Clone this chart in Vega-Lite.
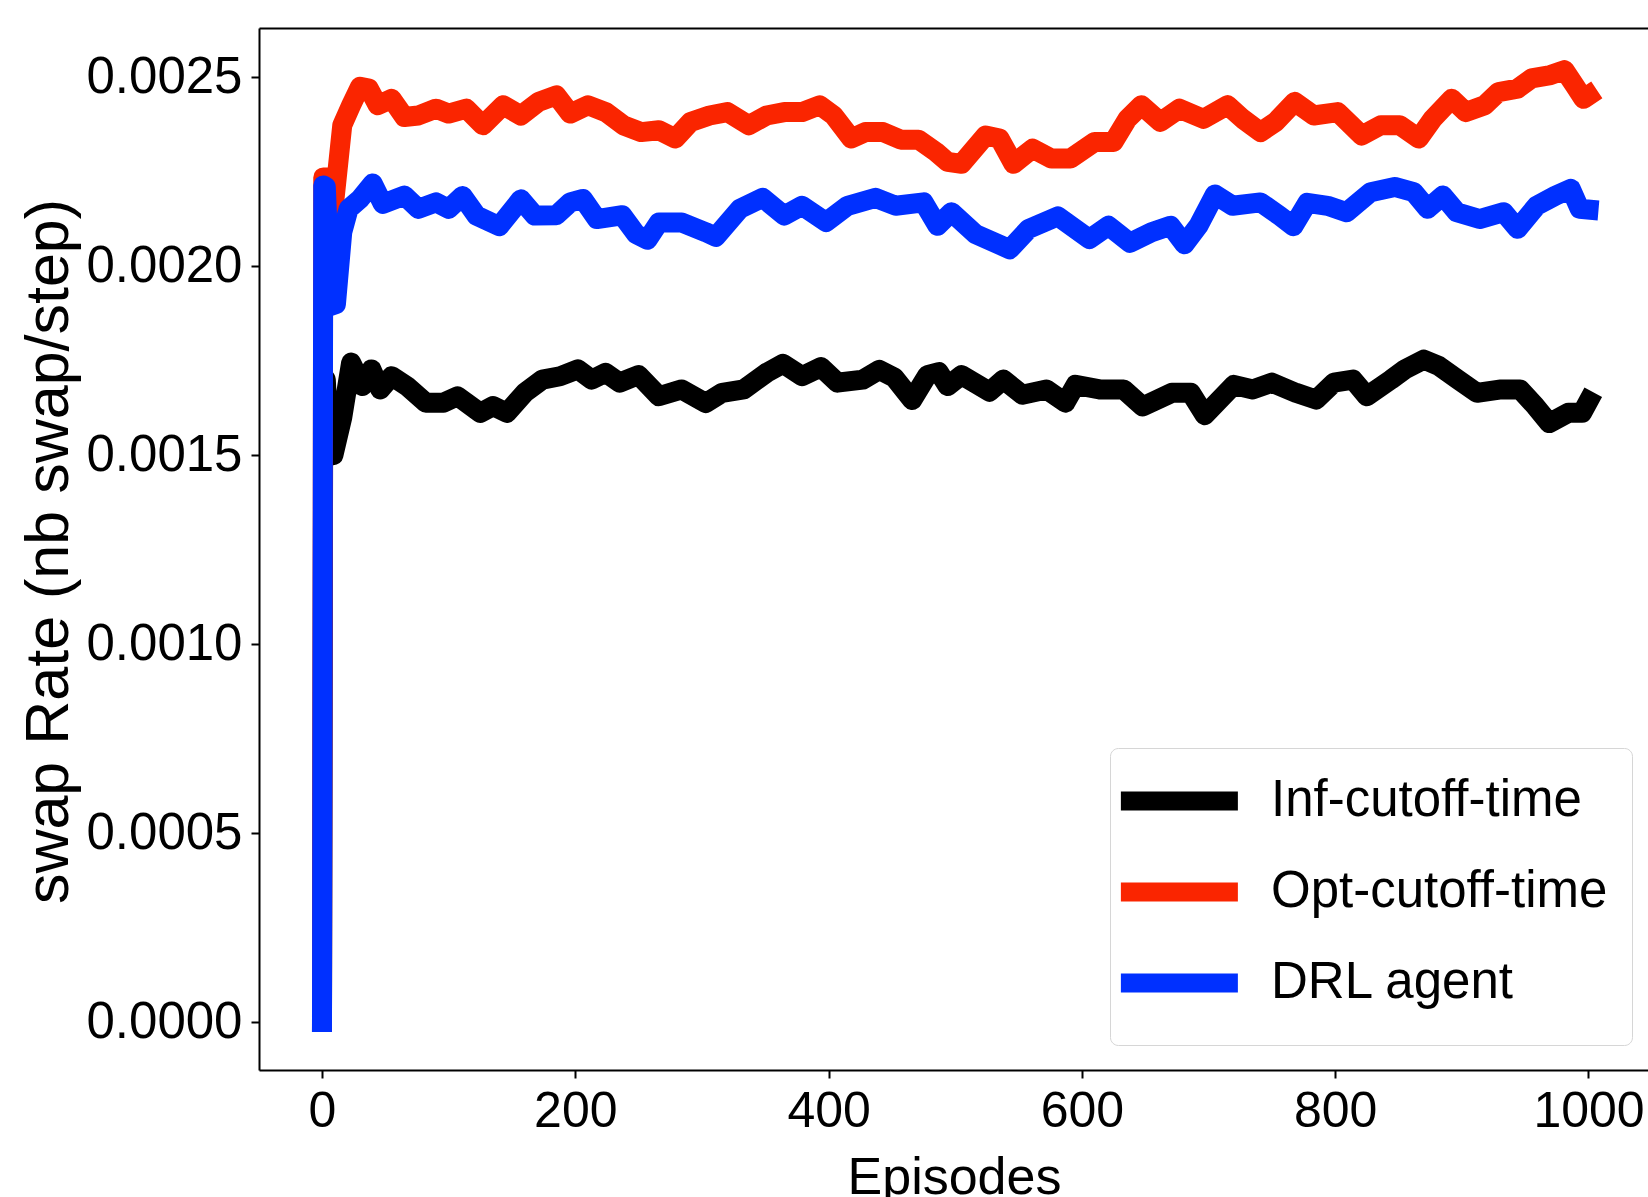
{
  "$schema": "https://vega.github.io/schema/vega-lite/v6.json",
  "autosize": {"type": "none"},
  "padding": {"left": 259, "top": 28, "right": 0, "bottom": 127},
  "width": 1389,
  "height": 1042,
  "background": "white",
  "config": {"view": {"stroke": null}},
  "datasets": {
    "rows": [
      {"series": "Inf-cutoff-time", "episode": 0, "rate": 0},
      {"series": "Inf-cutoff-time", "episode": 1, "rate": 0.00171},
      {"series": "Inf-cutoff-time", "episode": 3, "rate": 0.0017},
      {"series": "Inf-cutoff-time", "episode": 6, "rate": 0.0015},
      {"series": "Inf-cutoff-time", "episode": 9, "rate": 0.0015},
      {"series": "Inf-cutoff-time", "episode": 16, "rate": 0.0016},
      {"series": "Inf-cutoff-time", "episode": 23, "rate": 0.001745},
      {"series": "Inf-cutoff-time", "episode": 32, "rate": 0.001683},
      {"series": "Inf-cutoff-time", "episode": 39, "rate": 0.001727},
      {"series": "Inf-cutoff-time", "episode": 46, "rate": 0.001674},
      {"series": "Inf-cutoff-time", "episode": 55, "rate": 0.001709},
      {"series": "Inf-cutoff-time", "episode": 67, "rate": 0.001683},
      {"series": "Inf-cutoff-time", "episode": 82, "rate": 0.001639},
      {"series": "Inf-cutoff-time", "episode": 96, "rate": 0.001639},
      {"series": "Inf-cutoff-time", "episode": 107, "rate": 0.001656},
      {"series": "Inf-cutoff-time", "episode": 125, "rate": 0.001612},
      {"series": "Inf-cutoff-time", "episode": 135, "rate": 0.00163},
      {"series": "Inf-cutoff-time", "episode": 146, "rate": 0.001612},
      {"series": "Inf-cutoff-time", "episode": 160, "rate": 0.001665},
      {"series": "Inf-cutoff-time", "episode": 174, "rate": 0.0017},
      {"series": "Inf-cutoff-time", "episode": 188, "rate": 0.001709},
      {"series": "Inf-cutoff-time", "episode": 202, "rate": 0.001727},
      {"series": "Inf-cutoff-time", "episode": 213, "rate": 0.0017},
      {"series": "Inf-cutoff-time", "episode": 224, "rate": 0.001718},
      {"series": "Inf-cutoff-time", "episode": 235, "rate": 0.001692},
      {"series": "Inf-cutoff-time", "episode": 250, "rate": 0.001712},
      {"series": "Inf-cutoff-time", "episode": 266, "rate": 0.001656},
      {"series": "Inf-cutoff-time", "episode": 284, "rate": 0.001674},
      {"series": "Inf-cutoff-time", "episode": 303, "rate": 0.001638},
      {"series": "Inf-cutoff-time", "episode": 316, "rate": 0.001665},
      {"series": "Inf-cutoff-time", "episode": 333, "rate": 0.001674},
      {"series": "Inf-cutoff-time", "episode": 351, "rate": 0.001718},
      {"series": "Inf-cutoff-time", "episode": 364, "rate": 0.001742},
      {"series": "Inf-cutoff-time", "episode": 379, "rate": 0.001709},
      {"series": "Inf-cutoff-time", "episode": 394, "rate": 0.001733},
      {"series": "Inf-cutoff-time", "episode": 407, "rate": 0.001692},
      {"series": "Inf-cutoff-time", "episode": 427, "rate": 0.0017},
      {"series": "Inf-cutoff-time", "episode": 440, "rate": 0.001726},
      {"series": "Inf-cutoff-time", "episode": 452, "rate": 0.001705},
      {"series": "Inf-cutoff-time", "episode": 466, "rate": 0.001646},
      {"series": "Inf-cutoff-time", "episode": 478, "rate": 0.001712},
      {"series": "Inf-cutoff-time", "episode": 487, "rate": 0.00172},
      {"series": "Inf-cutoff-time", "episode": 494, "rate": 0.001683},
      {"series": "Inf-cutoff-time", "episode": 505, "rate": 0.001712},
      {"series": "Inf-cutoff-time", "episode": 516, "rate": 0.00169},
      {"series": "Inf-cutoff-time", "episode": 527, "rate": 0.001668},
      {"series": "Inf-cutoff-time", "episode": 538, "rate": 0.0017},
      {"series": "Inf-cutoff-time", "episode": 553, "rate": 0.00166},
      {"series": "Inf-cutoff-time", "episode": 572, "rate": 0.001674},
      {"series": "Inf-cutoff-time", "episode": 587, "rate": 0.001639},
      {"series": "Inf-cutoff-time", "episode": 595, "rate": 0.001686},
      {"series": "Inf-cutoff-time", "episode": 614, "rate": 0.001674},
      {"series": "Inf-cutoff-time", "episode": 633, "rate": 0.001674},
      {"series": "Inf-cutoff-time", "episode": 648, "rate": 0.001629},
      {"series": "Inf-cutoff-time", "episode": 671, "rate": 0.001665},
      {"series": "Inf-cutoff-time", "episode": 686, "rate": 0.001665},
      {"series": "Inf-cutoff-time", "episode": 697, "rate": 0.001606},
      {"series": "Inf-cutoff-time", "episode": 720, "rate": 0.001686},
      {"series": "Inf-cutoff-time", "episode": 735, "rate": 0.001674},
      {"series": "Inf-cutoff-time", "episode": 750, "rate": 0.001692},
      {"series": "Inf-cutoff-time", "episode": 769, "rate": 0.001665},
      {"series": "Inf-cutoff-time", "episode": 785, "rate": 0.001647},
      {"series": "Inf-cutoff-time", "episode": 799, "rate": 0.001692},
      {"series": "Inf-cutoff-time", "episode": 814, "rate": 0.0017},
      {"series": "Inf-cutoff-time", "episode": 825, "rate": 0.001656},
      {"series": "Inf-cutoff-time", "episode": 844, "rate": 0.0017},
      {"series": "Inf-cutoff-time", "episode": 855, "rate": 0.001727},
      {"series": "Inf-cutoff-time", "episode": 870, "rate": 0.001753},
      {"series": "Inf-cutoff-time", "episode": 882, "rate": 0.001736},
      {"series": "Inf-cutoff-time", "episode": 897, "rate": 0.0017},
      {"series": "Inf-cutoff-time", "episode": 912, "rate": 0.001665},
      {"series": "Inf-cutoff-time", "episode": 931, "rate": 0.001674},
      {"series": "Inf-cutoff-time", "episode": 946, "rate": 0.001674},
      {"series": "Inf-cutoff-time", "episode": 958, "rate": 0.00163},
      {"series": "Inf-cutoff-time", "episode": 969, "rate": 0.001585},
      {"series": "Inf-cutoff-time", "episode": 984, "rate": 0.001612},
      {"series": "Inf-cutoff-time", "episode": 995, "rate": 0.001612},
      {"series": "Inf-cutoff-time", "episode": 1000, "rate": 0.001643},

      {"series": "Opt-cutoff-time", "episode": 0, "rate": 0},
      {"series": "Opt-cutoff-time", "episode": 1, "rate": 0.002235},
      {"series": "Opt-cutoff-time", "episode": 5, "rate": 0.002235},
      {"series": "Opt-cutoff-time", "episode": 9, "rate": 0.00215},
      {"series": "Opt-cutoff-time", "episode": 16, "rate": 0.002373},
      {"series": "Opt-cutoff-time", "episode": 23, "rate": 0.002426},
      {"series": "Opt-cutoff-time", "episode": 30, "rate": 0.002475},
      {"series": "Opt-cutoff-time", "episode": 37, "rate": 0.00247},
      {"series": "Opt-cutoff-time", "episode": 44, "rate": 0.002426},
      {"series": "Opt-cutoff-time", "episode": 55, "rate": 0.002443},
      {"series": "Opt-cutoff-time", "episode": 65, "rate": 0.002395},
      {"series": "Opt-cutoff-time", "episode": 76, "rate": 0.002399},
      {"series": "Opt-cutoff-time", "episode": 90, "rate": 0.002417},
      {"series": "Opt-cutoff-time", "episode": 100, "rate": 0.002404},
      {"series": "Opt-cutoff-time", "episode": 114, "rate": 0.002417},
      {"series": "Opt-cutoff-time", "episode": 127, "rate": 0.002373},
      {"series": "Opt-cutoff-time", "episode": 143, "rate": 0.002426},
      {"series": "Opt-cutoff-time", "episode": 157, "rate": 0.002399},
      {"series": "Opt-cutoff-time", "episode": 171, "rate": 0.002435},
      {"series": "Opt-cutoff-time", "episode": 185, "rate": 0.002452},
      {"series": "Opt-cutoff-time", "episode": 196, "rate": 0.002404},
      {"series": "Opt-cutoff-time", "episode": 210, "rate": 0.002426},
      {"series": "Opt-cutoff-time", "episode": 224, "rate": 0.002408},
      {"series": "Opt-cutoff-time", "episode": 238, "rate": 0.002373},
      {"series": "Opt-cutoff-time", "episode": 252, "rate": 0.002355},
      {"series": "Opt-cutoff-time", "episode": 266, "rate": 0.00236},
      {"series": "Opt-cutoff-time", "episode": 279, "rate": 0.002338},
      {"series": "Opt-cutoff-time", "episode": 291, "rate": 0.002382},
      {"series": "Opt-cutoff-time", "episode": 306, "rate": 0.002399},
      {"series": "Opt-cutoff-time", "episode": 320, "rate": 0.002408},
      {"series": "Opt-cutoff-time", "episode": 337, "rate": 0.002373},
      {"series": "Opt-cutoff-time", "episode": 351, "rate": 0.002399},
      {"series": "Opt-cutoff-time", "episode": 365, "rate": 0.002408},
      {"series": "Opt-cutoff-time", "episode": 379, "rate": 0.002408},
      {"series": "Opt-cutoff-time", "episode": 393, "rate": 0.002426},
      {"series": "Opt-cutoff-time", "episode": 404, "rate": 0.002399},
      {"series": "Opt-cutoff-time", "episode": 418, "rate": 0.002338},
      {"series": "Opt-cutoff-time", "episode": 429, "rate": 0.002355},
      {"series": "Opt-cutoff-time", "episode": 443, "rate": 0.002355},
      {"series": "Opt-cutoff-time", "episode": 457, "rate": 0.002335},
      {"series": "Opt-cutoff-time", "episode": 471, "rate": 0.002335},
      {"series": "Opt-cutoff-time", "episode": 485, "rate": 0.002302},
      {"series": "Opt-cutoff-time", "episode": 494, "rate": 0.002276},
      {"series": "Opt-cutoff-time", "episode": 505, "rate": 0.002271},
      {"series": "Opt-cutoff-time", "episode": 524, "rate": 0.002346},
      {"series": "Opt-cutoff-time", "episode": 535, "rate": 0.002338},
      {"series": "Opt-cutoff-time", "episode": 546, "rate": 0.002271},
      {"series": "Opt-cutoff-time", "episode": 561, "rate": 0.002311},
      {"series": "Opt-cutoff-time", "episode": 576, "rate": 0.002285},
      {"series": "Opt-cutoff-time", "episode": 591, "rate": 0.002285},
      {"series": "Opt-cutoff-time", "episode": 610, "rate": 0.002329},
      {"series": "Opt-cutoff-time", "episode": 625, "rate": 0.002329},
      {"series": "Opt-cutoff-time", "episode": 636, "rate": 0.00239},
      {"series": "Opt-cutoff-time", "episode": 647, "rate": 0.002426},
      {"series": "Opt-cutoff-time", "episode": 662, "rate": 0.002382},
      {"series": "Opt-cutoff-time", "episode": 677, "rate": 0.002417},
      {"series": "Opt-cutoff-time", "episode": 696, "rate": 0.00239},
      {"series": "Opt-cutoff-time", "episode": 715, "rate": 0.002426},
      {"series": "Opt-cutoff-time", "episode": 727, "rate": 0.00239},
      {"series": "Opt-cutoff-time", "episode": 741, "rate": 0.002355},
      {"series": "Opt-cutoff-time", "episode": 753, "rate": 0.002382},
      {"series": "Opt-cutoff-time", "episode": 768, "rate": 0.002435},
      {"series": "Opt-cutoff-time", "episode": 783, "rate": 0.002399},
      {"series": "Opt-cutoff-time", "episode": 802, "rate": 0.002408},
      {"series": "Opt-cutoff-time", "episode": 821, "rate": 0.002346},
      {"series": "Opt-cutoff-time", "episode": 836, "rate": 0.002373},
      {"series": "Opt-cutoff-time", "episode": 851, "rate": 0.002373},
      {"series": "Opt-cutoff-time", "episode": 866, "rate": 0.002338},
      {"series": "Opt-cutoff-time", "episode": 877, "rate": 0.00239},
      {"series": "Opt-cutoff-time", "episode": 892, "rate": 0.002443},
      {"series": "Opt-cutoff-time", "episode": 903, "rate": 0.002408},
      {"series": "Opt-cutoff-time", "episode": 918, "rate": 0.002426},
      {"series": "Opt-cutoff-time", "episode": 929, "rate": 0.002461},
      {"series": "Opt-cutoff-time", "episode": 944, "rate": 0.00247},
      {"series": "Opt-cutoff-time", "episode": 955, "rate": 0.002497},
      {"series": "Opt-cutoff-time", "episode": 970, "rate": 0.002506},
      {"series": "Opt-cutoff-time", "episode": 981, "rate": 0.002519},
      {"series": "Opt-cutoff-time", "episode": 989, "rate": 0.002479},
      {"series": "Opt-cutoff-time", "episode": 996, "rate": 0.002443},
      {"series": "Opt-cutoff-time", "episode": 1000, "rate": 0.002452},

      {"series": "DRL agent", "episode": 0, "rate": 0},
      {"series": "DRL agent", "episode": 1, "rate": 0.002214},
      {"series": "DRL agent", "episode": 3, "rate": 0.00221},
      {"series": "DRL agent", "episode": 7, "rate": 0.001895},
      {"series": "DRL agent", "episode": 11, "rate": 0.0019},
      {"series": "DRL agent", "episode": 16, "rate": 0.00209},
      {"series": "DRL agent", "episode": 21, "rate": 0.002152},
      {"series": "DRL agent", "episode": 30, "rate": 0.002178},
      {"series": "DRL agent", "episode": 40, "rate": 0.002219},
      {"series": "DRL agent", "episode": 48, "rate": 0.002165},
      {"series": "DRL agent", "episode": 65, "rate": 0.002187},
      {"series": "DRL agent", "episode": 76, "rate": 0.002152},
      {"series": "DRL agent", "episode": 90, "rate": 0.002169},
      {"series": "DRL agent", "episode": 100, "rate": 0.002152},
      {"series": "DRL agent", "episode": 111, "rate": 0.002186},
      {"series": "DRL agent", "episode": 122, "rate": 0.002134},
      {"series": "DRL agent", "episode": 140, "rate": 0.002106},
      {"series": "DRL agent", "episode": 157, "rate": 0.002177},
      {"series": "DRL agent", "episode": 168, "rate": 0.002134},
      {"series": "DRL agent", "episode": 185, "rate": 0.002135},
      {"series": "DRL agent", "episode": 196, "rate": 0.002169},
      {"series": "DRL agent", "episode": 206, "rate": 0.002178},
      {"series": "DRL agent", "episode": 217, "rate": 0.002125},
      {"series": "DRL agent", "episode": 237, "rate": 0.002135},
      {"series": "DRL agent", "episode": 248, "rate": 0.002085},
      {"series": "DRL agent", "episode": 257, "rate": 0.00207},
      {"series": "DRL agent", "episode": 266, "rate": 0.002116},
      {"series": "DRL agent", "episode": 284, "rate": 0.002116},
      {"series": "DRL agent", "episode": 303, "rate": 0.00209},
      {"series": "DRL agent", "episode": 311, "rate": 0.002078},
      {"series": "DRL agent", "episode": 330, "rate": 0.002152},
      {"series": "DRL agent", "episode": 348, "rate": 0.002181},
      {"series": "DRL agent", "episode": 365, "rate": 0.002134},
      {"series": "DRL agent", "episode": 379, "rate": 0.00216},
      {"series": "DRL agent", "episode": 398, "rate": 0.002117},
      {"series": "DRL agent", "episode": 415, "rate": 0.00216},
      {"series": "DRL agent", "episode": 437, "rate": 0.002181},
      {"series": "DRL agent", "episode": 453, "rate": 0.00216},
      {"series": "DRL agent", "episode": 475, "rate": 0.002169},
      {"series": "DRL agent", "episode": 486, "rate": 0.002107},
      {"series": "DRL agent", "episode": 497, "rate": 0.002143},
      {"series": "DRL agent", "episode": 516, "rate": 0.002085},
      {"series": "DRL agent", "episode": 543, "rate": 0.002045},
      {"series": "DRL agent", "episode": 558, "rate": 0.002099},
      {"series": "DRL agent", "episode": 581, "rate": 0.002132},
      {"series": "DRL agent", "episode": 606, "rate": 0.002072},
      {"series": "DRL agent", "episode": 621, "rate": 0.002107},
      {"series": "DRL agent", "episode": 638, "rate": 0.002062},
      {"series": "DRL agent", "episode": 655, "rate": 0.00209},
      {"series": "DRL agent", "episode": 670, "rate": 0.002107},
      {"series": "DRL agent", "episode": 681, "rate": 0.002058},
      {"series": "DRL agent", "episode": 692, "rate": 0.002107},
      {"series": "DRL agent", "episode": 705, "rate": 0.00219},
      {"series": "DRL agent", "episode": 719, "rate": 0.00216},
      {"series": "DRL agent", "episode": 741, "rate": 0.002169},
      {"series": "DRL agent", "episode": 756, "rate": 0.002134},
      {"series": "DRL agent", "episode": 767, "rate": 0.002106},
      {"series": "DRL agent", "episode": 778, "rate": 0.002168},
      {"series": "DRL agent", "episode": 794, "rate": 0.00216},
      {"series": "DRL agent", "episode": 809, "rate": 0.002143},
      {"series": "DRL agent", "episode": 828, "rate": 0.002196},
      {"series": "DRL agent", "episode": 847, "rate": 0.00221},
      {"series": "DRL agent", "episode": 862, "rate": 0.002196},
      {"series": "DRL agent", "episode": 873, "rate": 0.002152},
      {"series": "DRL agent", "episode": 885, "rate": 0.002187},
      {"series": "DRL agent", "episode": 896, "rate": 0.002143},
      {"series": "DRL agent", "episode": 914, "rate": 0.002125},
      {"series": "DRL agent", "episode": 933, "rate": 0.002143},
      {"series": "DRL agent", "episode": 944, "rate": 0.002099},
      {"series": "DRL agent", "episode": 959, "rate": 0.00216},
      {"series": "DRL agent", "episode": 974, "rate": 0.002187},
      {"series": "DRL agent", "episode": 986, "rate": 0.002205},
      {"series": "DRL agent", "episode": 993, "rate": 0.002152},
      {"series": "DRL agent", "episode": 1000, "rate": 0.00215}
    ]
  },
  "data": {"name": "rows"},
  "layer": [
    {
      "mark": {"type": "line", "strokeWidth": 20, "strokeCap": "square", "strokeJoin": "round"},
      "encoding": {
        "x": {
          "field": "episode",
          "type": "quantitative",
          "scale": {"domain": [-49.74, 1046.98], "nice": false, "zero": false},
          "axis": {
            "values": [0, 200, 400, 600, 800, 1000],
            "format": "d",
            "grid": false,
            "domainColor": "#000000",
            "domainWidth": 2,
            "tickColor": "#000000",
            "tickWidth": 2,
            "tickSize": 8,
            "labelFlush": false,
            "labelOverlap": false,
            "labelFont": "'Liberation Sans', sans-serif",
            "labelFontSize": 50,
            "labelColor": "#000000",
            "labelPadding": 8,
            "title": "Episodes",
            "titleFont": "'Liberation Sans', sans-serif",
            "titleFontSize": 52,
            "titleFontWeight": "normal",
            "titleColor": "#000000",
            "titleAlign": "center",
            "titleBaseline": "alphabetic",
            "titleX": 695,
            "titleY": 123
          }
        },
        "y": {
          "field": "rate",
          "type": "quantitative",
          "scale": {"domain": [-0.000127, 0.0026305], "nice": false, "zero": false},
          "axis": {
            "values": [0, 0.0005, 0.001, 0.0015, 0.002, 0.0025],
            "format": ".4f",
            "grid": false,
            "domainColor": "#000000",
            "domainWidth": 2,
            "tickColor": "#000000",
            "tickWidth": 2,
            "tickSize": 8,
            "labelFlush": false,
            "labelOverlap": false,
            "labelFont": "'Liberation Sans', sans-serif",
            "labelFontSize": 51,
            "labelColor": "#000000",
            "labelPadding": 9,
            "title": "swap Rate (nb swap/step)",
            "titleFont": "'Liberation Sans', sans-serif",
            "titleFontSize": 61,
            "titleFontWeight": "normal",
            "titleColor": "#000000",
            "titleAngle": -90,
            "titleAlign": "center",
            "titleBaseline": "bottom",
            "titleX": -179,
            "titleY": 523
          }
        },
        "color": {
          "field": "series",
          "type": "nominal",
          "sort": ["Inf-cutoff-time", "Opt-cutoff-time", "DRL agent"],
          "scale": {
            "domain": ["Inf-cutoff-time", "Opt-cutoff-time", "DRL agent"],
            "range": ["#000000", "#fa2500", "#0030ff"]
          },
          "legend": {
            "orient": "none",
            "legendX": 851,
            "legendY": 720,
            "title": null,
            "symbolType": "M-2.16,0H3.84",
            "symbolStrokeWidth": 19,
            "symbolSize": 1521,
            "labelFont": "'Liberation Sans', sans-serif",
            "labelFontSize": 51,
            "labelColor": "#000000",
            "labelLimit": 600,
            "labelOffset": 79,
            "padding": 24,
            "rowPadding": 15,
            "fillColor": "rgba(255,255,255,0.8)",
            "strokeColor": "#d6d6d6",
            "cornerRadius": 8
          }
        }
      }
    },
    {
      "mark": {"type": "line", "opacity": 0},
      "encoding": {
        "x": {
          "field": "episode",
          "type": "quantitative",
          "axis": {
            "orient": "top",
            "labels": false,
            "ticks": false,
            "grid": false,
            "title": null,
            "domainColor": "#000000",
            "domainWidth": 2
          }
        },
        "y": {"field": "rate", "type": "quantitative", "axis": null}
      }
    }
  ],
  "resolve": {"axis": {"x": "independent", "y": "independent"}}
}
